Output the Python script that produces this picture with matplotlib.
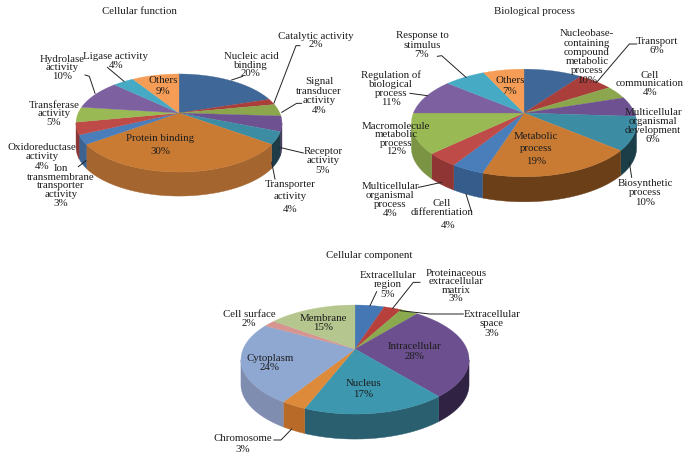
import numpy as np
import matplotlib
matplotlib.use("Agg")
import matplotlib.pyplot as plt

plt.rcParams['font.family'] = ['Liberation Serif', 'DejaVu Serif']

# ---------- data ----------
func_names = ["Nucleic acid\nbinding", "Catalytic activity", "Signal\ntransducer\nactivity", "Receptor\nactivity",
              "Transporter\nactivity", "Protein binding", "Ion\ntransmembrane\ntransporter\nactivity",
              "Oxidoreductase\nactivity", "Transferase\nactivity", "Hydrolase\nactivity", "Ligase activity", "Others"]
func_values = [20, 2, 4, 5, 4, 30, 3, 4, 5, 10, 4, 9]

bio_names = ["Nucleobase-\ncontaining\ncompound\nmetabolic\nprocess", "Transport", "Cell\ncommunication",
             "Multicellular\norganismal\ndevelopment", "Biosynthetic\nprocess", "Metabolic\nprocess",
             "Cell\ndifferentiation", "Multicellular\norganismal\nprocess", "Macromolecule\nmetabolic\nprocess",
             "Regulation of\nbiological\nprocess", "Response to\nstimulus", "Others"]
bio_values = [10, 6, 4, 6, 10, 19, 4, 4, 12, 11, 7, 7]

comp_names = ["Extracellular\nregion", "Proteinaceous\nextracellular\nmatrix", "Extracellular\nspace", "Intracellular",
              "Nucleus", "Chromosome", "Cytoplasm", "Cell surface", "Membrane"]
comp_values = [5, 3, 3, 28, 17, 3, 24, 2, 15]

# ---------- styles ----------
func_top = ['#3F6797', '#A93E3B', '#8BA64D', '#6E5190', '#3C8DA3', '#C97B34',
            '#4A7EBB', '#BE4B48', '#98B954', '#7D60A0', '#46AAC5', '#F59D56']
func_side = ['#2A4568', '#6F2A28', '#5C6E33', '#4A3660', '#1E3C48', '#A5652F',
             '#3C6290', '#8A3634', '#7A9443', '#5F4A7D', '#3589A0', '#C87E42']
bio_top = ['#3F6797', '#A93E3B', '#8BA64D', '#6E5190', '#3C8DA3', '#C97B34',
           '#4A7EBB', '#BE4B48', '#98B954', '#7D60A0', '#46AAC5', '#F59D56']
bio_side = ['#2A4568', '#6F2A28', '#5C6E33', '#4A3660', '#1B3E48', '#6B3F17',
            '#365C8C', '#8F3533', '#7A9443', '#5F4A7D', '#3589A0', '#C87E42']
comp_top = ['#4577B5', '#B7403D', '#8BAA4F', '#6B4F8E', '#3D97AF', '#DD8A3B',
            '#8FA8D2', '#D69591', '#B5C78F']
comp_side = ['#2F5480', '#7F2C2A', '#617737', '#2F2243', '#2A5F70', '#B86A28',
             '#7F8DB0', '#A87470', '#8FA070']

TEXT = '#1c1c1c'
FS = 7.8


def project(theta, geo):
    cx, cy, R, h, k = geo
    X, Y = np.sin(theta), np.cos(theta)
    w = 1 + k * Y
    return cx + R * X / w, cy - h * Y / w


def pie3d(ax, values, tops, sides, geo, depth):
    vals = np.asarray(values, float)
    edges = np.concatenate([[0], np.cumsum(vals) / vals.sum()]) * 2 * np.pi
    k = geo[4]
    for a, b, c in zip(edges[:-1], edges[1:], sides):
        t = np.linspace(a, b, 160)
        t = t[np.cos(t) < -k]
        if len(t) < 2:
            continue
        x, y = project(t, geo)
        ax.fill(np.r_[x, x[::-1]], np.r_[y, y[::-1] + depth], color=c, lw=0.3, zorder=2)
    for a, b, c in zip(edges[:-1], edges[1:], tops):
        t = np.linspace(a, b, 160)
        x, y = project(t, geo)
        ax.fill(np.r_[geo[0], x], np.r_[geo[1], y], color=c, lw=0.2, zorder=3)


def label(ax, x, y, s, ls=0.9):
    ax.text(x, y, s, ha='center', va='center', fontsize=FS, color=TEXT,
            linespacing=ls, zorder=5)


def leaders(ax, paths, dx=0, dy=0):
    for p in paths:
        p = np.array(p, float) / 3
        ax.plot(p[:, 0] + dx, p[:, 1] + dy, color='#222222', lw=0.7, zorder=4)


fig = plt.figure(figsize=(6.91, 4.60), dpi=100)
ax = fig.add_axes([0, 0, 1, 1])
ax.set_xlim(0, 691)
ax.set_ylim(460, 0)
ax.axis('off')

# ---------- pies (cx, cy, R, h, k) ----------
pie3d(ax, func_values, func_top, func_side, (179, 114, 100.8, 47, 0.204), 24)
pie3d(ax, bio_values, bio_top, bio_side, (524, 114, 110.6, 52, 0.185), 25)
pie3d(ax, comp_values, comp_top, comp_side, (355, 350, 111.9, 52.5, 0.193), 25)

# ---------- titles ----------
label(ax, 139.5, 11, "Cellular function")
label(ax, 534, 11, "Biological process")
label(ax, 369, 255, "Cellular component")

# ---------- labels ----------
func_pos = [(251, 65), (316, 40.5), (319, 96), (323, 161), (290, 197), (160, 145),
            (61, 186), (42, 157), (54, 114), (62, 68), (116, 61), (163, 86)]
func_ls = [0.9, 0.8, 1.09, 1.04, 1.44, 1.45, 0.97, 1.04, 0.94, 0.99, 0.97, 1.18]
for n, v, p, l in zip(func_names, func_values, func_pos, func_ls):
    label(ax, p[0], p[1], f"{n}\n{v}%", l)

bio_pos = [(587, 57), (657, 46), (650, 84), (653, 126), (645, 193), (536, 149),
           (442, 208), (390, 200), (396, 139), (391, 89), (422, 45), (510, 86)]
bio_ls = [1.03, 0.87, 0.87, 1.02, 1.04, 1.47, 0.87, 1.0, 0.93, 1.0, 1.07, 1.42]
for i, (n, v, p, l) in enumerate(zip(bio_names, bio_values, bio_pos, bio_ls)):
    if n.startswith("Cell\ndiff"):
        label(ax, p[0], p[1], n, l)
        label(ax, 448, 226, f"{v}%")
    else:
        label(ax, p[0], p[1], f"{n}\n{v}%", l)

comp_pos = [(388, 285), (456, 286), (492, 324), (415, 351.5), (363, 389), (243, 444),
            (270, 363), (249, 319), (323, 323)]
comp_ls = [1.04, 0.9, 1.04, 1.28, 1.15, 1.15, 1.1, 1.0, 0.87]
for n, v, p, l in zip(comp_names, comp_values, comp_pos, comp_ls):
    label(ax, p[0], p[1], f"{n}\n{v}%", l)

# ---------- leader lines (zoomed-crop coordinates / 3) ----------
leaders(ax, [[(695, 243), (728, 232)], [(900, 140), (888, 140), (822, 312)],
             [(845, 340), (890, 313), (905, 313)], [(838, 445), (910, 462)],
             [(815, 490), (825, 540)], [(258, 485), (235, 503)],
             [(255, 228), (268, 232), (285, 283)], [(322, 205), (372, 247)]])
leaders(ax, [[(890, 135), (868, 135), (770, 250)], [(868, 490), (875, 535)],
             [(378, 585), (395, 640)], [(235, 565), (250, 562), (305, 550)],
             [(210, 283), (262, 290)], [(292, 172), (305, 170), (378, 235)]], 340, 0)
leaders(ax, [[(530, 158), (510, 200)], [(660, 130), (640, 130), (578, 208)],
             [(790, 225), (690, 225), (600, 215)], [(222, 603), (243, 603), (275, 570)]], 200, 240)

fig.savefig("out.png", dpi=100)
